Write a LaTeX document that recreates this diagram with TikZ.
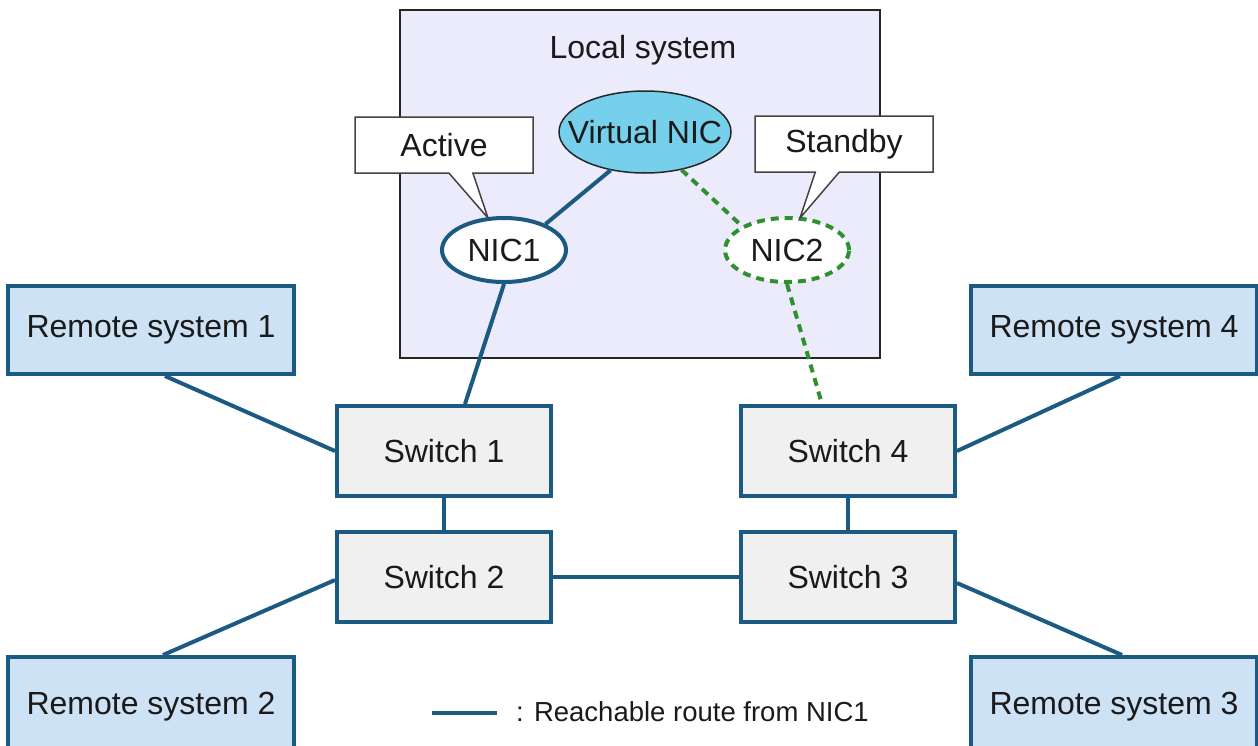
\documentclass[tikz,border=0pt]{standalone}
\usepackage{fontspec}
\setmainfont{Liberation Sans}
\usetikzlibrary{shapes.geometric,shapes.callouts}
\definecolor{routeblue}{HTML}{1B5A82}
\definecolor{lavender}{HTML}{ECEBFC}
\definecolor{vnicfill}{HTML}{76D0EC}
\definecolor{remotefill}{HTML}{CDE2F4}
\definecolor{switchfill}{HTML}{F0F0F0}
\definecolor{standbygreen}{HTML}{2F902F}
\definecolor{txt}{HTML}{1A1A1A}
\definecolor{calloutedge}{HTML}{4A4040}
\begin{document}
\begin{tikzpicture}[x=1pt,y=-1pt,
  font=\fontsize{32}{38}\selectfont, text=txt,
  route/.style={draw=routeblue, line width=4pt},
  standbyroute/.style={draw=standbygreen, line width=4pt, dash pattern=on 8pt off 6pt},
  switchbox/.style={rectangle, draw=routeblue, line width=4pt, fill=switchfill, minimum width=214pt, minimum height=90pt, inner sep=0pt},
  remotebox/.style={rectangle, draw=routeblue, line width=4pt, fill=remotefill, minimum width=286pt, minimum height=88pt, inner sep=0pt},
  nicshape/.style={ellipse, fill=white, minimum width=124pt, minimum height=64pt, inner sep=0pt},
  calloutbox/.style={rectangle callout, draw=calloutedge, line width=1.5pt, fill=white, minimum width=178pt, minimum height=56pt, inner sep=0pt, callout pointer width=24pt}
]
\useasboundingbox (0,0) rectangle (1258,745);

% local system
\node[rectangle, draw=black!85, line width=1.5pt, fill=lavender, minimum width=480pt, minimum height=348pt, inner sep=0pt] (local) at (640,184) {};
\node (localtxt) at (643,50) {Local system};

% virtual NIC and NICs
\node[ellipse, draw=black!85, line width=1.5pt, fill=vnicfill, minimum width=172pt, minimum height=82pt, inner sep=0pt, label={center:Virtual NIC}] (vnic) at (645,132) {};
\node[nicshape, draw=routeblue, line width=4pt, label={center:NIC1}] (nic1) at (504,250) {};
\node[nicshape, standbyroute, label={center:NIC2}] (nic2) at (787,250) {};

% callouts
\node[calloutbox, callout absolute pointer={(488,218)}] (active) at (444,145) {Active};
\node[calloutbox, callout absolute pointer={(800,218)}] (standby) at (844,144) {Standby};

% switches
\node[switchbox] (sw1) at (444,451) {Switch 1};
\node[switchbox] (sw2) at (444,577) {Switch 2};
\node[switchbox] (sw4) at (848,451) {Switch 4};
\node[switchbox] (sw3) at (848,577) {Switch 3};

% remote systems
\node[remotebox] (r1) at (151,330) {Remote system 1};
\node[remotebox] (r4) at (1114,330) {Remote system 4};
\node[remotebox, minimum height=100pt] (r2) at (151,707) {Remote system 2};
\node[remotebox, minimum height=100pt] (r3) at (1114,707) {Remote system 3};

% routes
\draw[route] (vnic.228) -- (nic1.32);
\draw[route] (nic1.south) -- ([xshift=21pt]sw1.north);
\draw[standbyroute] (vnic.314) -- (nic2.152);
\draw[standbyroute] (nic2.south) -- ([xshift=-26pt]sw4.north);
\draw[route] (sw1) -- (sw2);
\draw[route] (sw2) -- (sw3);
\draw[route] (sw4) -- (sw3);
\draw[route] ([xshift=14pt]r1.south) -- (sw1.west);
\draw[route] ([xshift=12pt]r2.north) -- ([yshift=-3pt]sw2.west);
\draw[route] ([xshift=6pt]r4.south) -- (sw4.east);
\draw[route] ([xshift=8pt]r3.north) -- ([yshift=-6pt]sw3.east);

% legend
\coordinate (legA) at (432,713);
\coordinate (legB) at (497,713);
\draw[route] (legA) -- (legB);
\node[anchor=west, font=\fontsize{27.5}{33}\selectfont, inner sep=0pt] (legtxt) at (516,712) {: Reachable route from NIC1};
\end{tikzpicture}
\end{document}
